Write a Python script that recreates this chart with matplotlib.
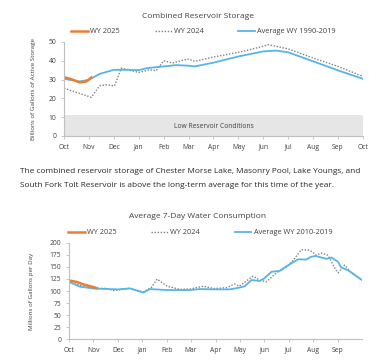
import numpy as np
import matplotlib.pyplot as plt

plt.rcParams['font.family'] = ['Open Sans', 'DejaVu Sans']

# ---- Combined reservoir storage (x in months since Oct 1) ----
month_labels_1 = ['Oct', 'Nov', 'Dec', 'Jan', 'Feb', 'Mar', 'Apr', 'May',
                  'Jun', 'Jul', 'Aug', 'Sep', 'Oct']

avg_x = [0, 0.63, 1.0, 1.43, 2.0, 2.5, 3.0, 3.3, 3.63, 4.0, 4.5, 4.97, 5.25,
         6.0, 7.0, 8.0, 8.53, 9.0, 10.0, 11.0, 12.0]
avg_y = [30.4, 29.0, 29.9, 33.0, 35.2, 35.2, 35.0, 36.0, 36.5, 37.0, 37.7,
         37.4, 37.0, 39.0, 42.3, 45.0, 45.4, 44.5, 39.7, 34.9, 30.4]

wy24_x = [0, 1.0, 1.09, 1.43, 1.7, 2.03, 2.3, 3.0, 3.43, 3.7, 4.0, 4.36,
          4.97, 5.25, 6.0, 7.0, 8.0, 8.2, 9.0, 10.0, 11.0, 12.0]
wy24_y = [25.4, 21.0, 20.6, 26.7, 27.2, 26.7, 36.1, 33.8, 35.2, 34.7, 40.0,
          38.8, 41.0, 39.7, 42.0, 44.5, 47.7, 48.6, 46.3, 41.5, 37.0, 31.7]

wy25_x = [0, 0.36, 0.63, 0.9, 1.1]
wy25_y = [31.3, 29.9, 28.5, 29.0, 31.1]

low_level = 11

# ---- Average 7-day water consumption (x in months since Oct 1) ----
month_labels_2 = ['Oct', 'Nov', 'Dec', 'Jan', 'Feb', 'Mar', 'Apr', 'May',
                  'Jun', 'Jul', 'Aug', 'Sep']

use_avg_x = [0, 0.45, 1.04, 2.02, 2.5, 3.04, 3.31, 4.02, 4.95, 5.35, 5.94,
             6.59, 6.97, 7.2, 7.47, 7.81, 7.99, 8.29, 8.63, 8.99, 9.38, 9.72,
             9.9, 10.1, 10.54, 10.75, 11.02, 11.15, 11.43, 11.77, 12.0]
use_avg_y = [119, 109, 105, 103.4, 105.5, 96.6, 104, 102, 102, 104, 103.4,
             103.4, 107, 110, 122.8, 121, 126, 140, 142, 154, 166, 165.5, 171,
             173, 167, 169.7, 160.7, 149, 143.4, 131, 122.8]

use24_x = [0, 0.45, 1.04, 1.54, 1.81, 2.5, 3.04, 3.38, 3.61, 4.02, 4.54,
           4.95, 5.5, 5.94, 6.45, 6.79, 6.97, 7.54, 7.81, 8.08, 8.5, 8.9,
           9.18, 9.52, 9.86, 10.13, 10.34, 10.61, 10.89, 11.02, 11.29, 11.56,
           12.0]
use24_y = [122.8, 112, 105.5, 105.5, 100.7, 105.5, 98, 107.6, 124.8, 110,
           103.4, 104, 110, 105, 107, 114.5, 110, 131, 122.8, 119, 138, 150,
           164, 186, 185, 174.5, 179, 174.5, 147, 138, 154, 138, 122.8]

use25_x = [0, 0.31, 0.59, 1.04, 1.13]
use25_y = [122, 119, 113.8, 107.6, 106]

orange = '#ED7D31'
blue = '#56B4E9'
grey = '#808080'
axis_col = '#BFBFBF'
txt_col = '#404040'

fig = plt.figure(figsize=(3.89, 3.61), dpi=100)


def style_axes(ax):
    for s in ['top', 'right']:
        ax.spines[s].set_visible(False)
    for s in ['left', 'bottom']:
        ax.spines[s].set_color(axis_col)
        ax.spines[s].set_linewidth(0.8)
    ax.tick_params(colors=axis_col, labelcolor=txt_col, labelsize=4.9,
                   length=2.5, width=0.6, pad=3)


# chart 1
ax1 = fig.add_axes([0.1645, 0.6233, 0.7685, 0.2604])
ax1.axhspan(0, low_level, color='#E6E6E6', lw=0)
ax1.text(6, 5, 'Low Reservoir Conditions', ha='center', va='center',
         fontsize=4.9, color=txt_col)
ax1.plot(wy24_x, wy24_y, color=grey, ls=(0, (1, 1.2)), lw=1.0,
         label='WY 2024')
ax1.plot(avg_x, avg_y, color=blue, lw=1.3, label='Average WY 1990-2019')
ax1.plot(wy25_x, wy25_y, color=orange, lw=1.8, label='WY 2025')
ax1.set_xlim(0, 12)
ax1.set_ylim(0, 50)
ax1.set_xticks(np.arange(13))
ax1.set_xticklabels(month_labels_1)
ax1.set_yticks(np.arange(0, 51, 10))
ax1.set_ylabel('Billions of Gallons of Active Storage', fontsize=4.5,
               color=txt_col, labelpad=9)
style_axes(ax1)
h, l = ax1.get_legend_handles_labels()
order = [2, 0, 1]
ax1.legend([h[i] for i in order], [l[i] for i in order], ncol=3,
           loc='lower center', bbox_to_anchor=(0.467, 1.0), frameon=False,
           fontsize=5.3, handlelength=2.3, handletextpad=0.3,
           columnspacing=4.7, labelcolor=txt_col)
fig.text(0.51, 0.955, 'Combined Reservoir Storage', ha='center',
         va='center', fontsize=6.0, color=txt_col)

# paragraph
fig.text(0.051, 0.526, 'The combined reservoir storage of Chester Morse Lake, '
         'Masonry Pool, Lake Youngs, and', ha='left', va='center',
         fontsize=5.95, color='#262626')
fig.text(0.051, 0.487, 'South Fork Tolt Reservoir is above the long-term '
         'average for this time of the year.', ha='left', va='center',
         fontsize=5.95, color='#262626')

# chart 2
ax2 = fig.add_axes([0.1774, 0.0609, 0.7532, 0.266])
ax2.plot(use24_x, use24_y, color=grey, ls=(0, (1, 1.2)), lw=1.0,
         label='WY 2024')
ax2.plot(use_avg_x, use_avg_y, color=blue, lw=1.3,
         label='Average WY 2010-2019')
ax2.plot(use25_x, use25_y, color=orange, lw=1.8, label='WY 2025')
ax2.set_xlim(0, 12)
ax2.set_ylim(0, 200)
ax2.set_xticks(np.arange(12))
ax2.set_xticklabels(month_labels_2)
ax2.set_yticks(np.arange(0, 201, 25))
ax2.set_ylabel('Millions of Gallons per Day', fontsize=4.5, color=txt_col,
               labelpad=11)
style_axes(ax2)
h, l = ax2.get_legend_handles_labels()
ax2.legend([h[i] for i in order], [l[i] for i in order], ncol=3,
           loc='lower center', bbox_to_anchor=(0.447, 1.0), frameon=False,
           fontsize=5.3, handlelength=2.3, handletextpad=0.3,
           columnspacing=4.7, labelcolor=txt_col)
fig.text(0.507, 0.399, 'Average 7-Day Water Consumption', ha='center',
         va='center', fontsize=6.0, color=txt_col)

fig.savefig('out.png', dpi=100)
